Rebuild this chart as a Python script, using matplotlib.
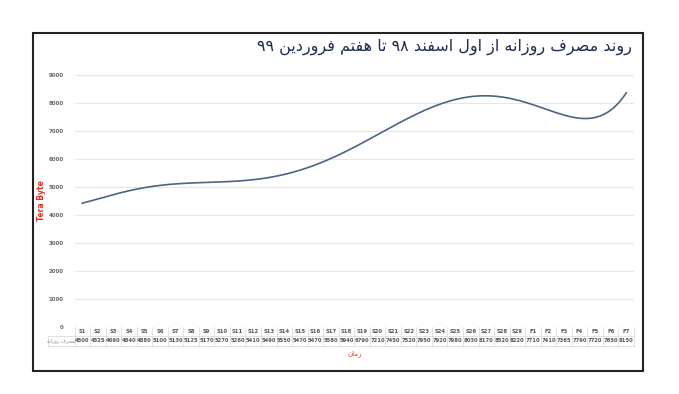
import numpy as np
import matplotlib
matplotlib.use("Agg")
import matplotlib.pyplot as plt
from matplotlib.patches import Rectangle

# data
days = ["S1", "S2", "S3", "S4", "S5", "S6", "S7", "S8", "S9", "S10",
        "S11", "S12", "S13", "S14", "S15", "S16", "S17", "S18", "S19", "S20",
        "S21", "S22", "S23", "S24", "S25", "S26", "S27", "S28", "S29",
        "F1", "F2", "F3", "F4", "F5", "F6", "F7"]
usage = [4500, 4525, 4690, 4840, 4880, 5100, 5130, 5125, 5170, 5270,
         5260, 5410, 5490, 5550, 5470, 5470, 5580, 5940, 6790, 7210,
         7450, 7520, 7950, 7920, 7980, 8030, 8170, 8520, 8220,
         7710, 7410, 7365, 7790, 7720, 7850, 8150]
yticks = [0, 1000, 2000, 3000, 4000, 5000, 6000, 7000, 8000, 9000]

title = "روند مصرف روزانه از اول اسفند ۹۸ تا هفتم فروردین ۹۹"
row_label = "مصرف روزانه"
xlabel = "زمان"
ylabel = "Tera Byte"

# minimal arabic shaping (no arabic_reshaper available)
FORMS = {  # isolated, final, initial, medial
    "ا": ("\uFE8D", "\uFE8E", None, None),
    "د": ("\uFEA9", "\uFEAA", None, None),
    "ر": ("\uFEAD", "\uFEAE", None, None),
    "ز": ("\uFEAF", "\uFEB0", None, None),
    "و": ("\uFEED", "\uFEEE", None, None),
    "ن": ("\uFEE5", "\uFEE6", "\uFEE7", "\uFEE8"),
    "م": ("\uFEE1", "\uFEE2", "\uFEE3", "\uFEE4"),
    "ص": ("\uFEB9", "\uFEBA", "\uFEBB", "\uFEBC"),
    "ف": ("\uFED1", "\uFED2", "\uFED3", "\uFED4"),
    "ه": ("\uFEE9", "\uFEEA", "\uFEEB", "\uFEEC"),
    "ل": ("\uFEDD", "\uFEDE", "\uFEDF", "\uFEE0"),
    "س": ("\uFEB1", "\uFEB2", "\uFEB3", "\uFEB4"),
    "ت": ("\uFE95", "\uFE96", "\uFE97", "\uFE98"),
    "ی": ("\uFBFC", "\uFBFD", "\uFBFE", "\uFBFF"),
}


def shape(s):
    out = []
    for i, ch in enumerate(s):
        if ch not in FORMS:
            out.append(ch)
            continue
        prev = s[i - 1] if i > 0 else ""
        nxt = s[i + 1] if i + 1 < len(s) else ""
        join_prev = prev in FORMS and FORMS[prev][2] is not None
        join_next = FORMS[ch][2] is not None and nxt in FORMS
        f = FORMS[ch]
        if join_prev and join_next:
            out.append(f[3])
        elif join_prev:
            out.append(f[1])
        elif join_next:
            out.append(f[2])
        else:
            out.append(f[0])
    vis = "".join(out)[::-1]
    # keep digit runs left-to-right
    res, run = "", ""
    for ch in vis:
        if "\u06F0" <= ch <= "\u06F9":
            run += ch
        else:
            res += run[::-1] + ch
            run = ""
    return res + run[::-1]


W, H = 679, 394
fig = plt.figure(figsize=(W / 100, H / 100), dpi=100)
fig.patch.set_facecolor("white")

ax_l, ax_r, ax_t, ax_b = 74.5, 634, 75, 327
ax = fig.add_axes([ax_l / W, 1 - ax_b / H, (ax_r - ax_l) / W, (ax_b - ax_t) / H])

# polynomial trendline, as in the original chart
x = np.arange(len(days))
coef = np.polyfit(x, usage, 6)
xs = np.linspace(0, len(days) - 1, 400)
ax.plot(xs, np.polyval(coef, xs), color="#4b6584", lw=1.2)

ax.set_xlim(-0.5, len(days) - 0.5)
ax.set_ylim(0, 9000)
ax.set_yticks(yticks)
ax.set_yticklabels([str(v) for v in yticks], fontsize=4, fontweight="bold", color="#666666")
ax.tick_params(axis="y", length=0, pad=8)
ax.set_xticks([])
ax.grid(axis="y", color="#e6e6e6", lw=0.8)
ax.set_axisbelow(True)
for sp in ax.spines.values():
    sp.set_visible(False)

# data table under the plot
tr = ax.get_xaxis_transform()
ph = ax_b - ax_t
r0, r1, r2 = 0, -9 / ph, -19 / ph
lab_left = (48 - ax_l) / ((ax_r - ax_l) / len(days)) - 0.5
grid_kw = dict(color="#dddddd", lw=0.6, transform=tr, clip_on=False)
ax.plot([lab_left, len(days) - 0.5], [r1, r1], **grid_kw)
ax.plot([lab_left, len(days) - 0.5], [r2, r2], **grid_kw)
for i in range(len(days) + 1):
    ax.plot([i - 0.5, i - 0.5], [r0, r2], **grid_kw)
ax.plot([lab_left, lab_left], [r1, r2], **grid_kw)
for i, (d, v) in enumerate(zip(days, usage)):
    ax.text(i, (r0 + r1) / 2, d, transform=tr, ha="center", va="center",
            fontsize=3.8, fontweight="bold", color="#555555")
    ax.text(i, (r1 + r2) / 2, str(v), transform=tr, ha="center", va="center",
            fontsize=3.8, fontweight="bold", color="#555555")
ax.text((lab_left - 0.5) / 2, (r1 + r2) / 2, shape(row_label), transform=tr,
        ha="center", va="center", fontsize=3.5, color="#888888")

ax.text(0.5, -27 / ph, shape(xlabel), transform=ax.transAxes, ha="center",
        va="center", fontsize=5, color="#e03020")
ax.text(-33 / (ax_r - ax_l), 0.50, ylabel, transform=ax.transAxes, rotation=90,
        ha="center", va="center", fontsize=5.5, fontweight="bold", color="#e03020")

fig.text(632 / W, 1 - 47 / H, shape(title), ha="right", va="center",
         fontsize=11.5, color="#1c2b50")

fig.patches.append(Rectangle((33 / W, 1 - 371 / H), (643 - 33) / W, (371 - 33) / H,
                             transform=fig.transFigure, fill=False,
                             edgecolor="#222222", lw=1.5))

fig.savefig("out.png", dpi=100)
